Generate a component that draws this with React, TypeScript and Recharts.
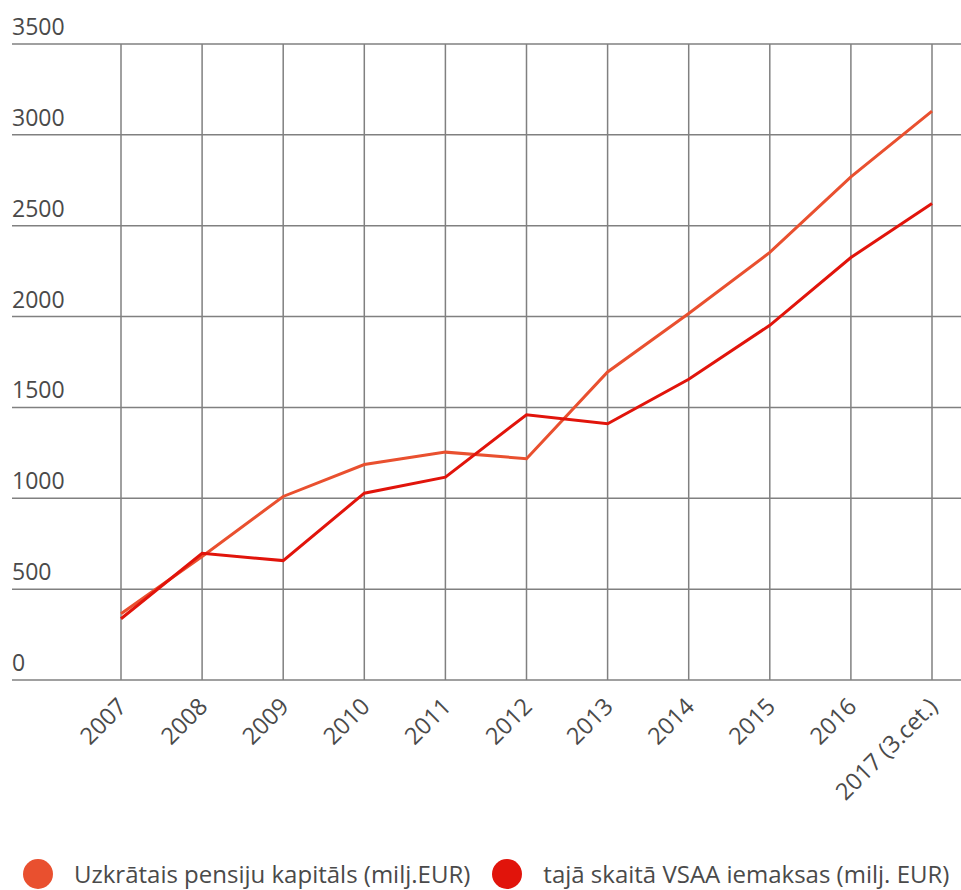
import { LineChart, Line, XAxis, YAxis, CartesianGrid, Legend, ReferenceLine } from "recharts";

const years = ["2007", "2008", "2009", "2010", "2011", "2012", "2013", "2014", "2015", "2016", "2017 (3.cet.)"];
const capital = [365, 680, 1010, 1186, 1254, 1218, 1695, 2017, 2353, 2769, 3131];
const vsaa = [337, 697, 657, 1028, 1116, 1460, 1410, 1655, 1952, 2325, 2622];
const yTicks = [0, 500, 1000, 1500, 2000, 2500, 3000, 3500];

const seriesNames = {
  capital: "Uzkrātais pensiju kapitāls (milj.EUR)",
  vsaa: "tajā skaitā VSAA iemaksas (milj. EUR)",
};

const ORANGE = "#e9502f";
const RED = "#e1140b";
const TEXT = "#4a4a4a";
const GRID = "#808080";
const FONT = "'Open Sans', sans-serif";

const data = years.map((year, i) => ({ year, capital: capital[i], vsaa: vsaa[i] }));

function YTick({ y, payload }: any) {
  return (
    <text x={12} y={y - 9} textAnchor="start" fill={TEXT} fontSize={23} fontFamily={FONT}>
      {payload.value}
    </text>
  );
}

function XTick({ x, y, payload }: any) {
  return (
    <g transform={`translate(${x + 7},${y + 28})`}>
      <text textAnchor="end" transform="rotate(-45)" fill={TEXT} fontSize={23.5} fontFamily={FONT}>
        {payload.value}
      </text>
    </g>
  );
}

function LegendContent() {
  const items = [
    { name: seriesNames.capital, color: ORANGE },
    { name: seriesNames.vsaa, color: RED },
  ];
  return (
    <div style={{ display: "flex", alignItems: "center", paddingLeft: 12, paddingTop: 19, fontFamily: FONT }}>
      {items.map((it) => (
        <div key={it.name} style={{ display: "flex", alignItems: "center", marginRight: 22 }}>
          <svg width={30} height={30} style={{ marginRight: 21, display: "block" }}>
            <circle cx={15} cy={15} r={15} fill={it.color} />
          </svg>
          <span style={{ fontSize: 24, color: TEXT, whiteSpace: "nowrap", lineHeight: "30px" }}>{it.name}</span>
        </div>
      ))}
    </div>
  );
}

export default function App() {
  return (
    <div style={{ position: "absolute", left: 0, top: 0, width: 961, height: 890, background: "#fff" }}>
      <LineChart width={961} height={890} data={data} margin={{ top: 44, right: 0, left: 11, bottom: 0 }}>
        <CartesianGrid stroke={GRID} strokeWidth={1.5} vertical={false} />
        {years.map((yr) => (
          <ReferenceLine key={yr} x={yr} stroke={GRID} strokeWidth={1.5} />
        ))}
        <XAxis
          dataKey="year"
          interval={0}
          padding={{ left: 109, right: 29 }}
          axisLine={false}
          tickLine={false}
          tickMargin={0}
          tickSize={0}
          height={160}
          tick={(props: any) => <XTick {...props} />}
        />
        <YAxis
          domain={[0, 3500]}
          ticks={yTicks}
          interval={0}
          width={1}
          axisLine={false}
          tickLine={false}
          tick={(props: any) => <YTick {...props} />}
        />
        <Legend verticalAlign="bottom" height={50} content={<LegendContent />} />
        <Line
          type="linear"
          dataKey="capital"
          name={seriesNames.capital}
          stroke={ORANGE}
          strokeWidth={3}
          dot={false}
          isAnimationActive={false}
        />
        <Line
          type="linear"
          dataKey="vsaa"
          name={seriesNames.vsaa}
          stroke={RED}
          strokeWidth={3}
          dot={false}
          isAnimationActive={false}
        />
      </LineChart>
    </div>
  );
}
